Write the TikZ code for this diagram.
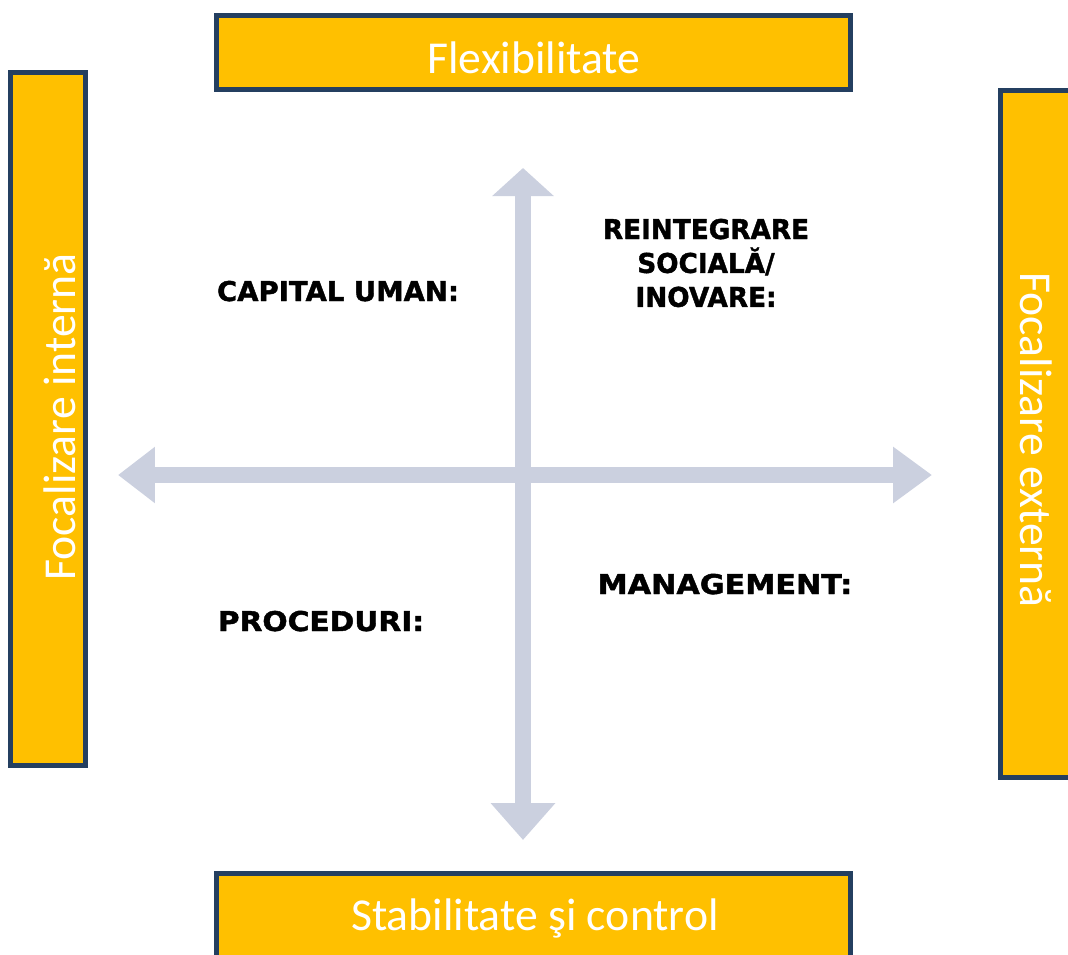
\documentclass[tikz,border=0pt]{standalone}
\usepackage{fontspec}
\setmainfont{Carlito}
\newfontfamily\quadfont[BoldFeatures={FakeBold=1.5}]{DejaVu Sans}
\usetikzlibrary{arrows.meta}
\definecolor{gold}{HTML}{FFC000}
\definecolor{navy}{HTML}{243F60}
\definecolor{axisgray}{HTML}{CBD0DF}
\newcommand{\widetext}[2]{\scalebox{#1}[1]{#2}}
\tikzset{
	focusbox/.style={draw=navy, line width=2.8pt, fill=gold},
	boxtext/.style={text=white, font=\fontsize{26}{31}\selectfont, inner sep=0pt},
	quadtext/.style={font=\quadfont\bfseries\fontsize{15.5}{17.3}\selectfont, inner sep=0pt, align=center},
	axisline/.style={line width=0.32cm, draw=axisgray}
}

\begin{document}
\begin{tikzpicture}[x=0.02cm, y=-0.02cm]
		%%%%% START %%%%%
		\useasboundingbox (0, 0) rectangle (1068, 954);
		
		% the four boxes
		\draw[focusbox] (216.5, 15.5) rectangle (850.5, 89.5);
		\draw[focusbox] (216.5, 873.5) rectangle (850.5, 962);
		\draw[focusbox] (10.5, 72.5) rectangle (85.5, 765.5);
		\draw[focusbox] (1000.5, 90.5) rectangle (1080, 777.5);
		
		\node[boxtext, anchor=base] (flex) at (534, 73) {Flexibilitate};
		\node[boxtext, anchor=base] (stab) at (535, 930) {Stabilitate şi control};
		\node[boxtext, rotate=90] (intern) at (60, 417) {Focalizare internă};
		\node[boxtext, rotate=-90] (extern) at (1036, 440) {Focalizare externă};
		
		% axes
		\coordinate (west) at (118, 475);
		\coordinate (east) at (932, 475);
		\coordinate (north) at (523, 168);
		\coordinate (south) at (523, 840);
		\draw[axisline, {Triangle[width=1.08cm, length=0.74cm]}-{Triangle[width=1.08cm, length=0.78cm]}] (west) -- (east);
		\draw[axisline, {Triangle[width=1.2cm, length=0.56cm]}-{Triangle[width=1.25cm, length=0.74cm]}] (north) -- (south);
		
		% quadrants
		\node[quadtext, anchor=base] (capital) at (338, 301) {\widetext{1.01}{CAPITAL UMAN:}};
		\node[quadtext] (reint) at (706, 263) {\widetext{0.965}{REINTEGRARE}\\[2pt]\widetext{0.965}{SOCIALĂ/}\\[2pt]\widetext{0.965}{INOVARE:}};
		\node[quadtext, anchor=base] (proc) at (321, 631) {\widetext{1.09}{PROCEDURI:}};
		\node[quadtext, anchor=base] (mgmt) at (725, 594) {\widetext{1.11}{MANAGEMENT:}};
		
		%%%%% END %%%%%
\end{tikzpicture}
\end{document}
